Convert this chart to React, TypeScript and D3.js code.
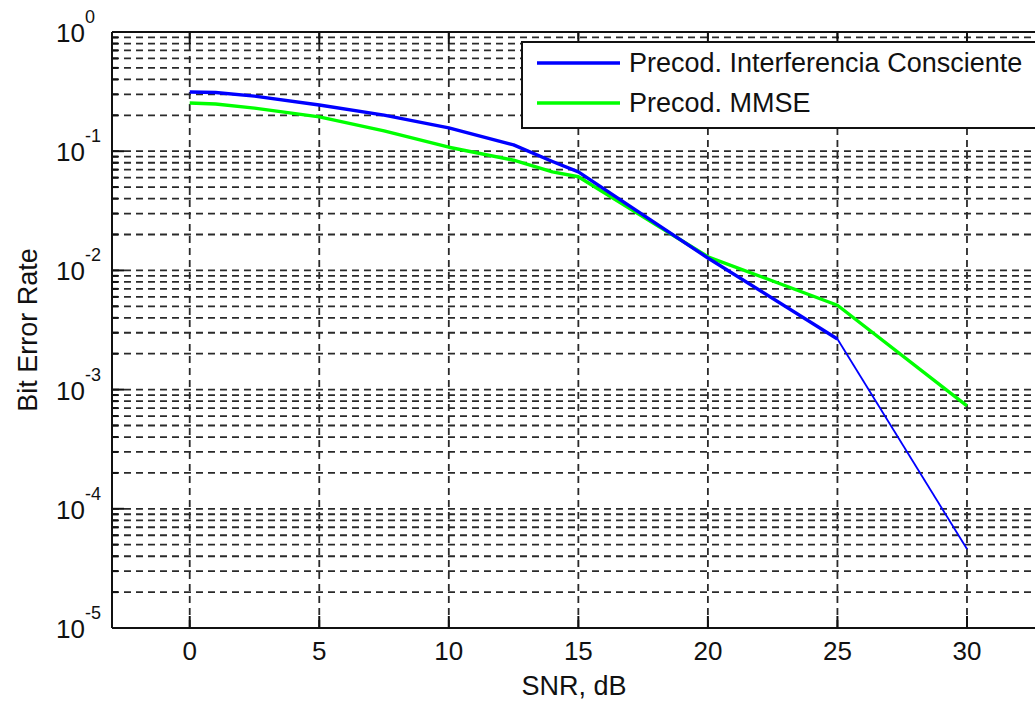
import React from "react";
import * as d3 from "d3";

// Simulated bit error rate vs. SNR for two precoders
const snrDb = [0, 1, 2.5, 5, 7.5, 10, 12.5, 14, 15, 20, 25, 30];
const berInterferencia = [0.314, 0.311, 0.29, 0.244, 0.201, 0.157, 0.113, 0.082, 0.067, 0.0127, 0.00266, 0.000046];
const berMmse = [0.254, 0.249, 0.23, 0.194, 0.148, 0.108, 0.084, 0.067, 0.061, 0.013, 0.0051, 0.00073];
const seriesNames = ["Precod. Interferencia Consciente", "Precod. MMSE"];
const xTicks = [0, 5, 10, 15, 20, 25, 30];
const yExponents = [0, -1, -2, -3, -4, -5];
const xLabel = "SNR, dB";
const yLabel = "Bit Error Rate";

const W = 1035;
const H = 704;
const FONT = "'Liberation Sans', Arial, Helvetica, sans-serif";
const FS = 27;

export default function App() {
  const left = 112;
  const top = 32;
  const bottom = 628;
  const x = d3.scaleLinear().domain([-3, 33]).range([left, 1044.7]);
  const y = d3.scaleLog().domain([1e-5, 1]).range([bottom, top]);
  const right = x(33);

  // minor log grid values 2..9 x 10^k
  const minor: number[] = [];
  for (let k = -5; k < 0; k++) for (let m = 2; m <= 9; m++) minor.push(m * Math.pow(10, k));
  const majorInner = [1e-1, 1e-2, 1e-3, 1e-4];

  const pts = (vals: number[]) => snrDb.map((s, i) => [s, vals[i]] as [number, number]);
  const line = d3
    .line<[number, number]>()
    .x((d) => x(d[0]))
    .y((d) => y(d[1]));

  const blue = pts(berInterferencia);
  const green = pts(berMmse);
  const split = snrDb.indexOf(25);

  const gridStyle = { stroke: "#2a2a2a", strokeWidth: 1.8, strokeDasharray: "7,5", fill: "none" };

  const colors = ["#0000ff", "#00ff00"];

  return (
    <svg
      width={W}
      height={H}
      style={{ position: "absolute", left: 0, top: 0, background: "#fff" }}
      fontFamily={FONT}
    >
      <rect x={0} y={0} width={W} height={H} fill="#fff" />
      {/* horizontal grid */}
      {minor.concat(majorInner).map((v, i) => (
        <line key={"h" + i} x1={left} x2={right} y1={y(v)} y2={y(v)} style={gridStyle} />
      ))}
      {/* vertical grid */}
      {xTicks.map((t) => (
        <line key={"v" + t} x1={x(t)} x2={x(t)} y1={top} y2={bottom} style={gridStyle} />
      ))}

      {/* data */}
      <path d={line(green) || ""} fill="none" stroke={colors[1]} strokeWidth={3.4} strokeLinejoin="round" />
      <path d={line(blue.slice(0, split + 1)) || ""} fill="none" stroke={colors[0]} strokeWidth={3.4} strokeLinejoin="round" />
      <path d={line(blue.slice(split)) || ""} fill="none" stroke={colors[0]} strokeWidth={1.8} />

      {/* ticks */}
      {xTicks.map((t) => (
        <g key={"xt" + t} stroke="#111" strokeWidth={2}>
          <line x1={x(t)} x2={x(t)} y1={bottom} y2={bottom - 12} />
          <line x1={x(t)} x2={x(t)} y1={top} y2={top + 12} />
        </g>
      ))}
      {majorInner.map((v, i) => (
        <line key={"ytM" + i} x1={left} x2={left + 12} y1={y(v)} y2={y(v)} stroke="#111" strokeWidth={2} />
      ))}
      {minor.map((v, i) => (
        <line key={"ytm" + i} x1={left} x2={left + 6} y1={y(v)} y2={y(v)} stroke="#111" strokeWidth={2} />
      ))}

      {/* axes box */}
      <line x1={left} x2={right} y1={top} y2={top} stroke="#111" strokeWidth={2} />
      <line x1={left} x2={right} y1={bottom} y2={bottom} stroke="#111" strokeWidth={2} />
      <line x1={left} x2={left} y1={top} y2={bottom} stroke="#111" strokeWidth={2} />
      <line x1={right} x2={right} y1={top} y2={bottom} stroke="#111" strokeWidth={2} />

      {/* x tick labels */}
      {xTicks.map((t) => (
        <text key={"xl" + t} x={x(t)} y={bottom + 32} fontSize={FS - 1} textAnchor="middle" fill="#111">
          {t}
        </text>
      ))}
      {/* y tick labels */}
      {yExponents.map((e) => {
        const ty = y(Math.pow(10, e));
        return (
          <g key={"yl" + e} fill="#111">
            <text x={85} y={ty + 10} fontSize={FS - 1} textAnchor="end">
              10
            </text>
            <text x={85} y={ty - 9} fontSize={18} textAnchor="start">
              {e === 0 ? "0" : "-" + Math.abs(e)}
            </text>
          </g>
        );
      })}

      {/* axis labels */}
      <text x={574} y={695} fontSize={FS} textAnchor="middle" fill="#111">
        {xLabel}
      </text>
      <text
        transform={`translate(37, ${(top + bottom) / 2}) rotate(-90)`}
        fontSize={FS}
        textAnchor="middle"
        fill="#111"
      >
        {yLabel}
      </text>

      {/* legend */}
      <rect x={522} y={42} width={530} height={86} fill="#fff" stroke="#111" strokeWidth={2} />
      {seriesNames.map((name, i) => {
        const ly = 63 + i * 40;
        return (
          <g key={name}>
            <line x1={537} x2={620} y1={ly} y2={ly} stroke={colors[i]} strokeWidth={3.4} />
            <text x={629} y={ly + 9} fontSize={FS} fill="#111">
              {name}
            </text>
          </g>
        );
      })}
    </svg>
  );
}
